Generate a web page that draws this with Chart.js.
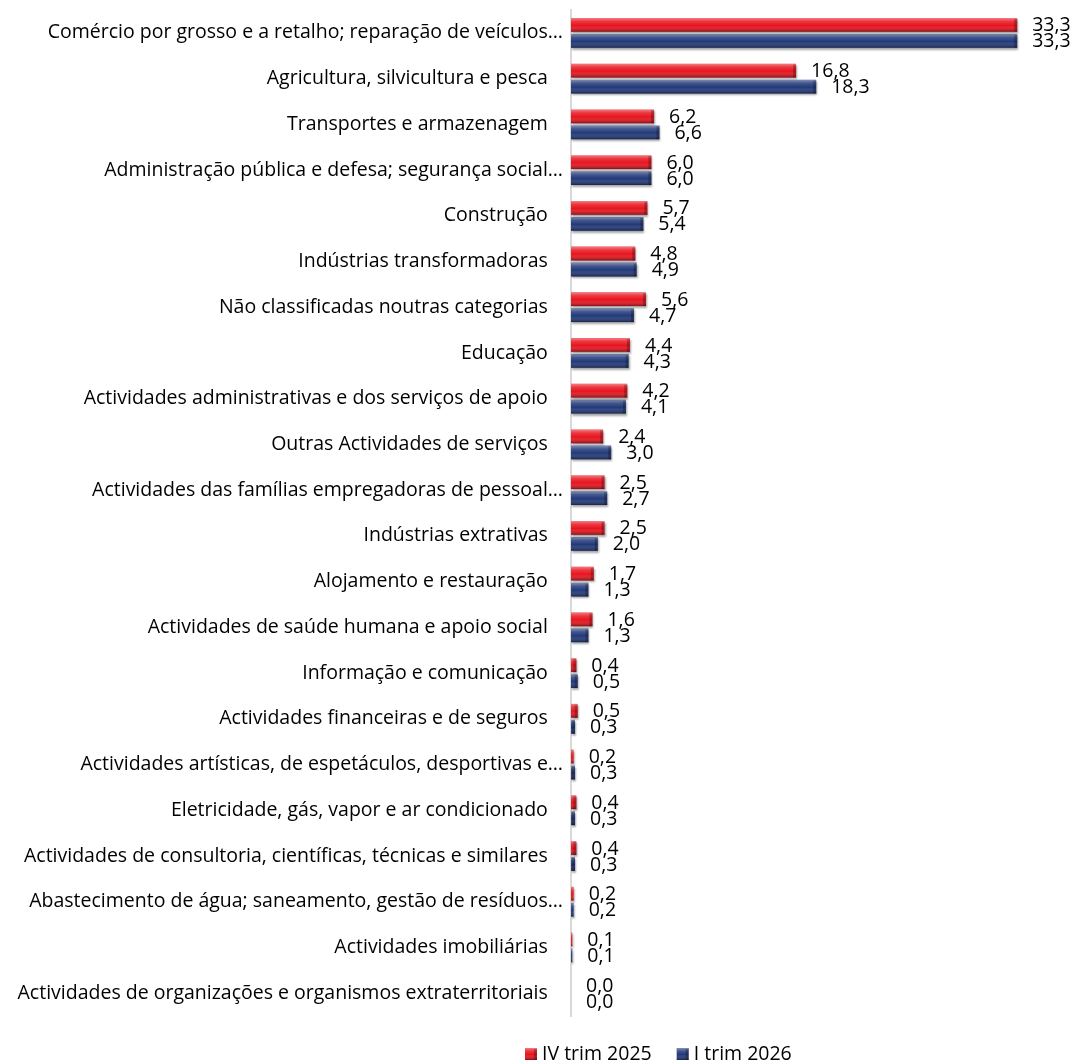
<!DOCTYPE html>
<html>
<head>
<meta charset="utf-8">
<script src="https://cdn.jsdelivr.net/npm/chart.js@4.4.1/dist/chart.umd.min.js"></script>
<style>
    html, body { margin: 0; padding: 0; background: #fff; }
    #wrap { width: 1074px; height: 1061px; position: relative; }
</style>
</head>
<body>
<div id="wrap"><canvas id="sectorChart"></canvas></div>
<script>
// Data
const categories = [
    'Comércio por grosso e a retalho; reparação de veículos…',
    'Agricultura, silvicultura e pesca',
    'Transportes e armazenagem',
    'Administração pública e defesa; segurança social…',
    'Construção',
    'Indústrias transformadoras',
    'Não classificadas noutras categorias',
    'Educação',
    'Actividades administrativas e dos serviços de apoio',
    'Outras Actividades de serviços',
    'Actividades das famílias empregadoras de pessoal…',
    'Indústrias extrativas',
    'Alojamento e restauração',
    'Actividades de saúde humana e apoio social',
    'Informação e comunicação',
    'Actividades financeiras e de seguros',
    'Actividades artísticas, de espetáculos, desportivas e…',
    'Eletricidade, gás, vapor e ar condicionado',
    'Actividades de consultoria, científicas, técnicas e similares',
    'Abastecimento de água; saneamento, gestão de resíduos…',
    'Actividades imobiliárias',
    'Actividades de organizações e organismos extraterritoriais'
];
const trimIV2025 = [33.3, 16.8, 6.2, 6.0, 5.7, 4.8, 5.6, 4.4, 4.2, 2.4, 2.5, 2.5, 1.7, 1.6, 0.4, 0.5, 0.2, 0.4, 0.4, 0.2, 0.1, 0.0];
const trimI2026 = [33.3, 18.3, 6.6, 6.0, 5.4, 4.9, 4.7, 4.3, 4.1, 3.0, 2.7, 2.0, 1.3, 1.3, 0.5, 0.3, 0.3, 0.3, 0.3, 0.2, 0.1, 0.0];
const seriesNames = ['IV trim 2025', 'I trim 2026'];

const FONT_FAMILY = '"Open Sans", "Noto Sans", sans-serif';
const FONT_SIZE = 19.5;
const AXIS_X = 571;
const LEGEND_LEFT = 525;
const LEGEND_Y = 1054;

function formatValue(v) {
    return v.toFixed(1).replace('.', ',');
}

// 3D look: shadow under bars and a vertical sheen on top
const bevelPlugin = {
    id: 'bevel',
    beforeDatasetDraw(chart) {
        const ctx = chart.ctx;
        ctx.save();
        ctx.shadowColor = 'rgba(0,0,0,0.35)';
        ctx.shadowBlur = 2;
        ctx.shadowOffsetX = 1;
        ctx.shadowOffsetY = 2;
    },
    afterDatasetDraw(chart, args) {
        const ctx = chart.ctx;
        ctx.restore();
        args.meta.data.forEach(bar => {
            const p = bar.getProps(['x', 'y', 'base', 'height'], true);
            const w = p.x - p.base;
            if (w <= 0) return;
            const top = p.y - p.height / 2;
            paintSheen(ctx, p.base, top, w, p.height);
        });
    }
};

function paintSheen(ctx, x, y, w, h) {
    const g = ctx.createLinearGradient(0, y, 0, y + h);
    g.addColorStop(0, 'rgba(255,255,255,0.45)');
    g.addColorStop(0.25, 'rgba(255,255,255,0.15)');
    g.addColorStop(0.55, 'rgba(255,255,255,0)');
    g.addColorStop(1, 'rgba(0,0,0,0.4)');
    ctx.save();
    ctx.fillStyle = g;
    ctx.fillRect(x, y, w, h);
    // darker cap at the right end
    if (w > 4) {
        ctx.fillStyle = 'rgba(0,0,0,0.25)';
        ctx.fillRect(x + w - 3, y + 1, 3, h - 1);
    }
    ctx.restore();
}

const valueLabelPlugin = {
    id: 'valueLabels',
    afterDatasetsDraw(chart) {
        const ctx = chart.ctx;
        ctx.save();
        ctx.font = FONT_SIZE + 'px ' + FONT_FAMILY;
        ctx.fillStyle = '#000';
        ctx.textAlign = 'left';
        ctx.textBaseline = 'middle';
        chart.data.datasets.forEach((ds, i) => {
            chart.getDatasetMeta(i).data.forEach((bar, j) => {
                ctx.fillText(formatValue(ds.data[j]), bar.x + 15, bar.y + 1);
            });
        });
        ctx.restore();
    }
};

const legendPlugin = {
    id: 'bottomLegend',
    afterDraw(chart) {
        const ctx = chart.ctx;
        ctx.save();
        ctx.font = FONT_SIZE + 'px ' + FONT_FAMILY;
        ctx.textBaseline = 'middle';
        ctx.textAlign = 'left';
        let x = LEGEND_LEFT;
        chart.data.datasets.forEach(ds => {
            ctx.fillStyle = ds.backgroundColor;
            ctx.fillRect(x, LEGEND_Y - 6, 12, 12);
            paintSheen(ctx, x, LEGEND_Y - 6, 12, 12);
            ctx.fillStyle = '#000';
            ctx.fillText(ds.label, x + 17, LEGEND_Y);
            x += 17 + ctx.measureText(ds.label).width + 25;
        });
        ctx.restore();
    }
};

const ctx = document.getElementById('sectorChart').getContext('2d');
new Chart(ctx, {
    type: 'bar',
    data: {
        labels: categories,
        datasets: [{
            label: seriesNames[0],
            data: trimIV2025,
            backgroundColor: '#E8141E'
        }, {
            label: seriesNames[1],
            data: trimI2026,
            backgroundColor: '#22397A'
        }]
    },
    options: {
        indexAxis: 'y',
        responsive: true,
        maintainAspectRatio: false,
        animation: false,
        devicePixelRatio: 1,
        categoryPercentage: 0.7,
        barPercentage: 0.86,
        layout: {
            padding: { top: 10, right: 34, bottom: 45, left: 0 }
        },
        plugins: {
            legend: { display: false },
            tooltip: { enabled: false }
        },
        scales: {
            x: {
                display: false,
                min: 0,
                max: 35
            },
            y: {
                grid: { display: false, drawTicks: false },
                border: { color: '#d9d9d9', width: 2 },
                afterFit: function(scale) {
                    scale.width = AXIS_X;
                    scale.paddingTop = 0;
                    scale.paddingBottom = 0;
                },
                ticks: {
                    autoSkip: false,
                    padding: 8,
                    color: '#000',
                    font: { family: FONT_FAMILY, size: FONT_SIZE },
                    callback: function(value) {
                        const label = this.getLabelForValue(value);
                        // full labels sit a little further left than the clipped ones
                        return label.endsWith('…') ? label : label + '   ';
                    }
                }
            }
        }
    },
    plugins: [bevelPlugin, valueLabelPlugin, legendPlugin]
});
</script>
</body>
</html>
